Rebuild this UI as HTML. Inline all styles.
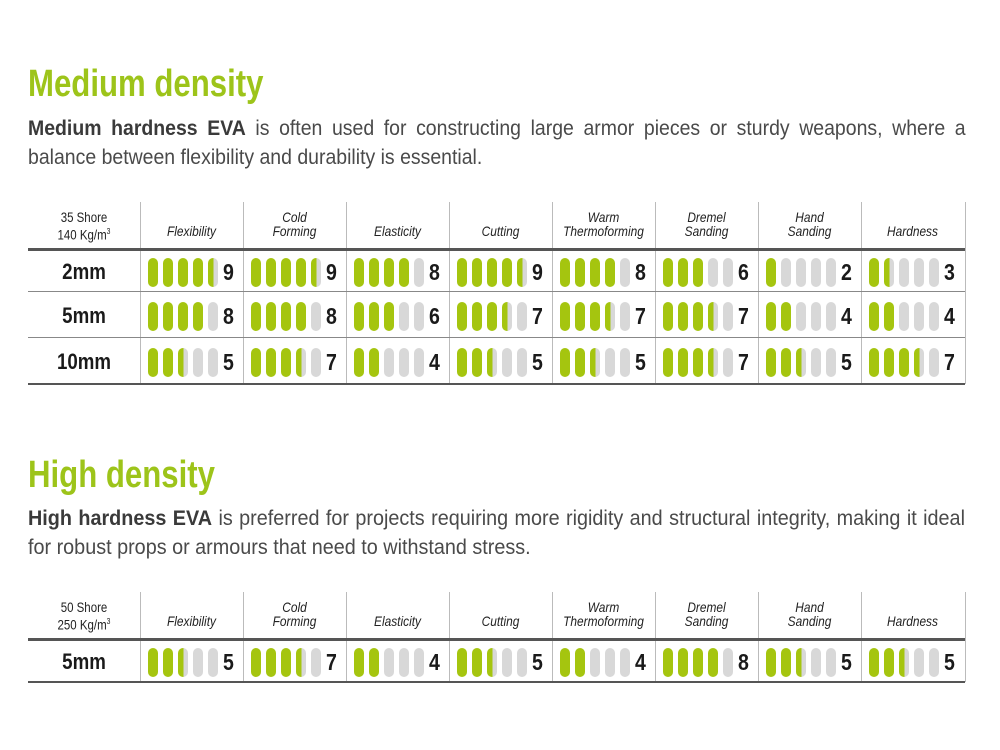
<!DOCTYPE html>
<html><head><meta charset="utf-8"><style>
body{margin:0;width:1000px;height:750px;background:#fff;position:relative;overflow:hidden;font-family:"Liberation Sans",sans-serif;color:#3e3e3e}
.t{position:absolute;left:28px;font-weight:bold;color:#9dc41a;font-size:38px;line-height:40px;transform:scaleX(.82);transform-origin:0 0;white-space:nowrap}
.p{position:absolute;left:28px;width:1036px;font-size:21.5px;line-height:29px;text-align:justify;text-align-last:left;color:#4a4a4a;transform:scaleX(.905);transform-origin:0 0}
.p b{color:#3a3a3a}
.a{position:absolute}
.h{position:absolute;font-size:14px;line-height:14px;text-align:center;font-style:italic;color:#222;transform:scaleX(.85)}
.pill{position:absolute;width:10px;height:29px;border-radius:5px;background:#d8d8d8}
.n{position:absolute;font-weight:bold;font-size:23px;color:#1a1a1a;transform:scaleX(.85);transform-origin:0 0}
.r{position:absolute;left:28px;width:112px;text-align:center;font-weight:bold;font-size:22px;color:#1a1a1a;transform:scaleX(.85)}
</style></head><body>
<div class="t" style="top:64px">Medium density</div>
<div class="p" style="top:114px"><b>Medium hardness EVA</b> is often used for constructing large armor pieces or sturdy weapons, where a balance between flexibility and durability is essential.</div>
<div class="t" style="top:455px">High density</div>
<div class="p" style="top:504px;width:1018px;transform:scaleX(.9204)"><b>High hardness EVA</b> is preferred for projects requiring more rigidity and structural integrity, making it ideal for robust props or armours that need to withstand stress.</div>
<div id="c"></div>
<script>
var c=document.getElementById('c'),h='';
var heads=['Flexibility','Cold<br>Forming','Elasticity','Cutting','Warm<br>Thermoforming','Dremel<br>Sanding','Hand<br>Sanding','Hardness'];
function table(top,lab,rows){
 var hb=top+47;
 h+='<div class="h" style="left:28px;width:112px;top:'+(top+9)+'px;font-style:normal;font-size:13.5px">'+lab+'</div>';
 for(var i=0;i<8;i++){var x=140+i*103;
  var two=heads[i].indexOf('<br>')>0;
  h+='<div class="h" style="left:'+x+'px;width:103px;top:'+(top+(two?8:22))+'px">'+heads[i]+'</div>';}
 var y=hb;
 var bottom=hb;rows.forEach(function(r,k){bottom+=(k==0?43:46);});
 for(var i=0;i<8;i++){var x=140+i*103;h+='<div class="a" style="left:'+x+'px;top:'+top+'px;width:1px;height:'+(bottom-top)+'px;background:#bbb"></div>';}
 h+='<div class="a" style="left:965px;top:'+top+'px;width:1px;height:'+(bottom-top)+'px;background:#bbb"></div>';
 h+='<div class="a" style="left:28px;top:'+(hb-1)+'px;width:937px;height:3px;background:#555"></div>';
 rows.forEach(function(r,k){
  var rh=(k==0?43:46);
  var cy=y+rh/2+1;
  h+='<div class="r" style="top:'+(cy-13)+'px">'+r[0]+'</div>';
  for(var i=0;i<8;i++){var x=148+i*103,v=r[1][i];
   for(var j=0;j<5;j++){var f=v-2*j,bg='#d8d8d8';
    if(f>=2)bg='#a5c50f';else if(f==1)bg='linear-gradient(90deg,#a5c50f 55%,#d8d8d8 55%)';
    h+='<div class="pill" style="left:'+(x+j*15)+'px;top:'+(cy-14)+'px;background:'+bg+'"></div>';}
   h+='<div class="n" style="left:'+(x+75)+'px;top:'+(cy-13)+'px">'+v+'</div>';}
  y+=rh;
  h+='<div class="a" style="left:28px;top:'+(y-1)+'px;width:937px;height:'+(k==rows.length-1?2:1)+'px;background:'+(k==rows.length-1?'#555':'#888')+'"></div>';
 });
}
table(202,'35 Shore<br>140 Kg/m<sup style="font-size:8px">3</sup>',[['2mm',[9,9,8,9,8,6,2,3]],['5mm',[8,8,6,7,7,7,4,4]],['10mm',[5,7,4,5,5,7,5,7]]]);
table(592,'50 Shore<br>250 Kg/m<sup style="font-size:8px">3</sup>',[['5mm',[5,7,4,5,4,8,5,5]]]);
c.innerHTML=h;
</script>
</body></html>
